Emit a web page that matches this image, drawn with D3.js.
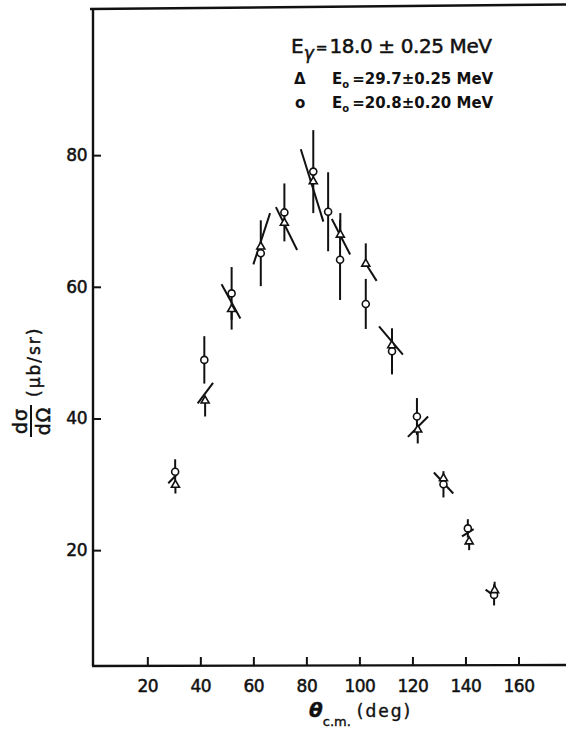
<!DOCTYPE html>
<html>
<head>
<meta charset="utf-8">
<script src="https://cdn.jsdelivr.net/npm/d3@7"></script>
<style>
  html, body { margin: 0; padding: 0; background: #fff; }
  svg { display: block; }
  text { font-family: "DejaVu Sans", sans-serif; fill: #111; }
</style>
</head>
<body>
<svg id="chart" width="566" height="729"></svg>
<script>
// ---- data ----
// open circles: E0 = 20.8 MeV
const angleC = [30.5, 41.5, 51.8, 62.8, 71.7, 82.6, 88.2, 92.7, 102.4, 112.3, 121.7, 131.7, 140.9, 150.8];
const sigmaC = [31.9, 48.9, 59.0, 65.1, 71.3, 77.5, 71.4, 64.1, 57.4, 50.2, 40.3, 30.0, 23.3, 13.2];
const errC   = [1.9, 3.6, 4.0, 5.0, 4.4, 6.3, 6.0, 6.1, 3.8, 3.5, 2.8, 2.0, 1.4, 1.6];

// open triangles: E0 = 29.7 MeV
const angleT   = [30.6, 41.8, 51.8, 62.8, 71.7, 82.6, 92.8, 102.4, 112.2, 122.0, 131.7, 141.4, 151.0];
const sigmaT   = [29.9, 42.7, 56.6, 66.1, 69.7, 76.0, 67.9, 63.5, 51.1, 38.3, 30.9, 21.3, 13.9];
const errTUp   = [0, 0, 0, 0, 0, 0, 3.3, 3.1, 0, 0, 0, 0, 1.3];
const errTDown = [1.3, 2.4, 3.1, 0, 0, 0, 0, 0, 0, 2.1, 0, 1.3, 0];
// slanted error segments drawn through the triangles (angle, sigma at both ends)
const slantA1 = [27.9, 39.0, 48.0, 60.0, 68.5, 77.9, 89.6, 102.4, 107.4, 118.3, 128.1, 138.7, 147.6];
const slantS1 = [30.15, 42.3, 60.4, 63.4, 72.1, 80.9, 70.3, 63.5, 54.0, 37.2, 31.8, 22.1, 14.0];
const slantA2 = [31.4, 44.8, 55.1, 66.3, 76.5, 86.4, 96.5, 106.5, 116.4, 125.9, 135.4, 143.1, 151.7];
const slantS2 = [31.6, 45.4, 55.2, 71.2, 65.6, 69.9, 64.9, 60.9, 49.7, 40.3, 28.6, 23.2, 12.8];

const xTicks = [20, 40, 60, 80, 100, 120, 140, 160];
const yTicks = [20, 40, 60, 80];

// ---- layout ----
const svg = d3.select("#chart");
const pLeft = 93, pBottom = 666, pTop = 9, pRight = 571.5;
const x = d3.scaleLinear().domain([0, 180]).range([94.3, pRight]);
const y = d3.scaleLinear().domain([2.4, 102.2]).range([pBottom, pTop]);
const ink = "#111";

// frame (left, top, bottom)
const frame = svg.append("g").attr("stroke", ink).attr("stroke-width", 2.4).attr("fill", "none");
frame.append("line").attr("x1", pLeft).attr("x2", pLeft).attr("y1", pTop).attr("y2", pBottom);
frame.append("line").attr("x1", pLeft - 1).attr("x2", 566).attr("y1", pBottom).attr("y2", pBottom - 1);
frame.append("line").attr("x1", pLeft - 3).attr("x2", 566).attr("y1", pTop).attr("y2", pTop - 4.5);

// axes with inward ticks
const xAxis = d3.axisBottom(x).tickValues(xTicks).tickSizeInner(-9).tickSizeOuter(0).tickPadding(14);
const gx = svg.append("g").attr("transform", `translate(0,${pBottom})`).call(xAxis);
gx.select(".domain").remove();
gx.selectAll(".tick line").attr("stroke", ink).attr("stroke-width", 2);
gx.selectAll(".tick text").attr("font-size", 17).attr("font-family", "DejaVu Sans").attr("fill", ink)
  .attr("stroke", ink).attr("stroke-width", 0.5).attr("letter-spacing", -0.5);

const yAxis = d3.axisLeft(y).tickValues(yTicks).tickSizeInner(-8).tickSizeOuter(0).tickPadding(14);
const gy = svg.append("g").attr("transform", `translate(${pLeft},0)`).call(yAxis);
gy.select(".domain").remove();
gy.selectAll(".tick line").attr("stroke", ink).attr("stroke-width", 2);
gy.selectAll(".tick text").attr("font-size", 17).attr("font-family", "DejaVu Sans").attr("fill", ink)
  .attr("stroke", ink).attr("stroke-width", 0.5).attr("x", -6).attr("letter-spacing", -0.5);

// ---- data marks ----
const marks = svg.append("g").attr("stroke", ink).attr("stroke-width", 2).attr("fill", "none");

// circle error bars
angleC.forEach((a, i) => {
  marks.append("line")
    .attr("x1", x(a)).attr("x2", x(a))
    .attr("y1", y(sigmaC[i] + errC[i])).attr("y2", y(sigmaC[i] - errC[i]));
});
// triangle vertical bars
angleT.forEach((a, i) => {
  if (errTUp[i] > 0 || errTDown[i] > 0) {
    marks.append("line")
      .attr("x1", x(a)).attr("x2", x(a))
      .attr("y1", y(sigmaT[i] + errTUp[i])).attr("y2", y(sigmaT[i] - errTDown[i]));
  }
});
// slanted segments
slantA1.forEach((a, i) => {
  marks.append("line")
    .attr("x1", x(a)).attr("y1", y(slantS1[i]))
    .attr("x2", x(slantA2[i])).attr("y2", y(slantS2[i]));
});

// circle markers
svg.append("g").selectAll("circle").data(angleC).join("circle")
  .attr("cx", d => x(d)).attr("cy", (d, i) => y(sigmaC[i]))
  .attr("r", 3.5).attr("fill", "#fff").attr("stroke", ink).attr("stroke-width", 1.6);

// triangle markers
const tri = d3.symbol().type(d3.symbolTriangle).size(28);
svg.append("g").selectAll("path").data(angleT).join("path")
  .attr("d", tri)
  .attr("transform", (d, i) => `translate(${x(d)},${y(sigmaT[i])})`)
  .attr("fill", "#fff").attr("stroke", ink).attr("stroke-width", 1.6);

// ---- legend ----
const leg = svg.append("g");
const t1 = leg.append("text").attr("x", 291).attr("y", 53).attr("font-size", 20)
  .attr("stroke", ink).attr("stroke-width", 0.5);
t1.append("tspan").text("E");
t1.append("tspan").attr("font-size", 17).attr("font-style", "italic").attr("dy", 6).text("γ");
t1.append("tspan").attr("dy", -6).attr("font-size", 14).attr("dx", 2).text("=");
t1.append("tspan").attr("dx", 2).attr("letter-spacing", -0.4).text("18.0 ± 0.25 MeV");

leg.append("text").attr("x", 294).attr("y", 84).attr("font-size", 15).attr("font-weight", "bold").text("Δ");
const t2 = leg.append("text").attr("x", 332).attr("y", 84).attr("font-size", 15).attr("font-weight", "bold");
t2.append("tspan").text("E");
t2.append("tspan").attr("font-size", 10).attr("dy", 4).text("o");
t2.append("tspan").attr("dy", -4).attr("dx", 3).text("=29.7±0.25  MeV");

leg.append("text").attr("x", 295).attr("y", 108).attr("font-size", 15).attr("font-weight", "bold").text("o");
const t3 = leg.append("text").attr("x", 332).attr("y", 108).attr("font-size", 15).attr("font-weight", "bold");
t3.append("tspan").text("E");
t3.append("tspan").attr("font-size", 10).attr("dy", 4).text("o");
t3.append("tspan").attr("dy", -4).attr("dx", 3).text("=20.8±0.20  MeV");

// ---- axis titles ----
const xt = svg.append("text").attr("x", 309).attr("y", 717).attr("font-size", 20)
  .attr("stroke", ink).attr("stroke-width", 0.4);
xt.append("tspan").attr("font-style", "italic").attr("font-weight", "bold").text("θ");
xt.append("tspan").attr("font-size", 13).attr("dy", 9).text("c.m.");
xt.append("tspan").attr("font-size", 17).attr("dy", -9).attr("dx", 6).attr("letter-spacing", 2).text("(deg)");

const yt = svg.append("g").attr("transform", "rotate(-90)")
  .attr("stroke", ink).attr("stroke-width", 0.5);
yt.append("text").attr("x", -421).attr("y", 27).attr("font-size", 19).attr("text-anchor", "middle")
  .attr("letter-spacing", 1).text("dσ");
yt.append("line").attr("x1", -437).attr("x2", -405).attr("y1", 31).attr("y2", 31)
  .attr("stroke", ink).attr("stroke-width", 2);
yt.append("text").attr("x", -421).attr("y", 50).attr("font-size", 19).attr("text-anchor", "middle")
  .attr("letter-spacing", 1).text("dΩ");
yt.append("text").attr("x", -397).attr("y", 40).attr("font-size", 17).attr("letter-spacing", 2)
  .text("(μb/sr)");
</script>
</body>
</html>
